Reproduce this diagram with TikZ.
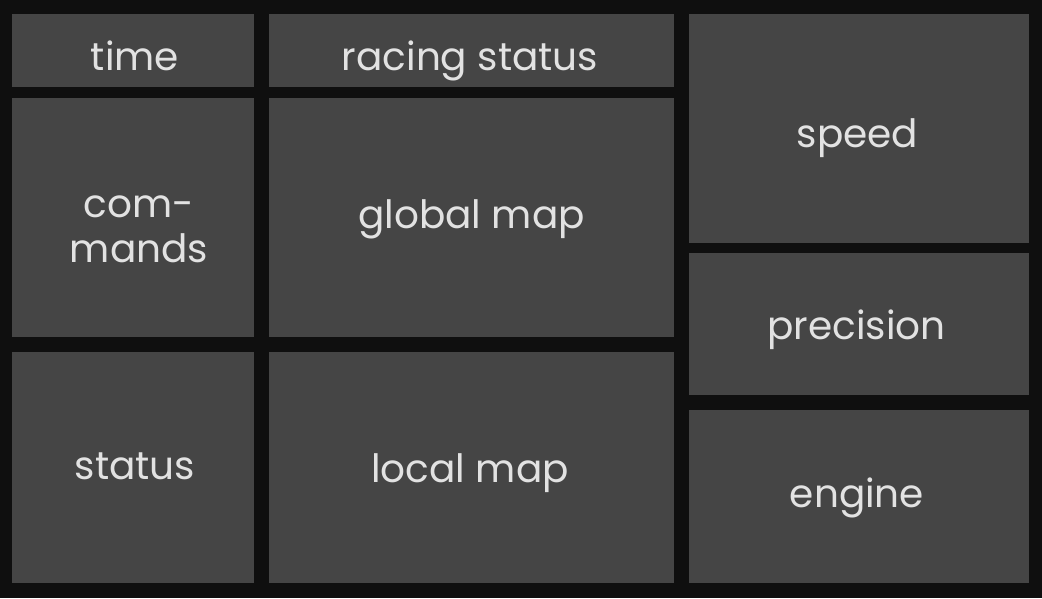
\documentclass[tikz,border=0pt]{standalone}
\usepackage{fontspec}
\setmainfont{Poppins}
\definecolor{bgcolor}{HTML}{0F0F0F}
\definecolor{panelcolor}{HTML}{454545}
\definecolor{labelcolor}{HTML}{E2E2E2}
\newlength{\du}
\setlength{\du}{1pt}
\tikzset{
  panel/.style={rectangle, fill=panelcolor, draw=none, inner sep=0pt},
  tag/.style={inner sep=0pt, anchor=base, text=labelcolor, align=center,
    font=\fontsize{39}{45}\selectfont},
}

\begin{document}
\begin{tikzpicture}
\pgftransformyscale{-1.000000}
% background
\fill[bgcolor] (0\du,0\du) rectangle (1042\du,598\du);
% left column
\node[panel, minimum width=242\du, minimum height=73\du] (time) at (133\du,50.5\du){};
\node[tag] (timetext) at (135\du,70\du){time};
\node[panel, minimum width=242\du, minimum height=239\du] (commands) at (133\du,217.5\du){};
\node[tag] (commandstext) at (139\du,262\du){com-\\mands};
\node[panel, minimum width=242\du, minimum height=231\du] (status) at (133\du,467.5\du){};
\node[tag] (statustext) at (135\du,479\du){status};
% middle column
\node[panel, minimum width=405\du, minimum height=73\du] (racingstatus) at (471.5\du,50.5\du){};
\node[tag] (racingstatustext) at (470\du,70\du){racing status};
\node[panel, minimum width=405\du, minimum height=239\du] (globalmap) at (471.5\du,217.5\du){};
\node[tag] (globalmaptext) at (471.5\du,228\du){global map};
\node[panel, minimum width=405\du, minimum height=231\du] (localmap) at (471.5\du,467.5\du){};
\node[tag] (localmaptext) at (470\du,482\du){local map};
% right column
\node[panel, minimum width=340\du, minimum height=229\du] (speed) at (859\du,128.5\du){};
\node[tag] (speedtext) at (857.5\du,147\du){speed};
\node[panel, minimum width=340\du, minimum height=142\du] (precision) at (859\du,324\du){};
\node[tag] (precisiontext) at (856.5\du,339\du){precision};
\node[panel, minimum width=340\du, minimum height=173\du] (engine) at (859\du,496.5\du){};
\node[tag] (enginetext) at (857\du,507\du){engine};
\end{tikzpicture}
\end{document}
